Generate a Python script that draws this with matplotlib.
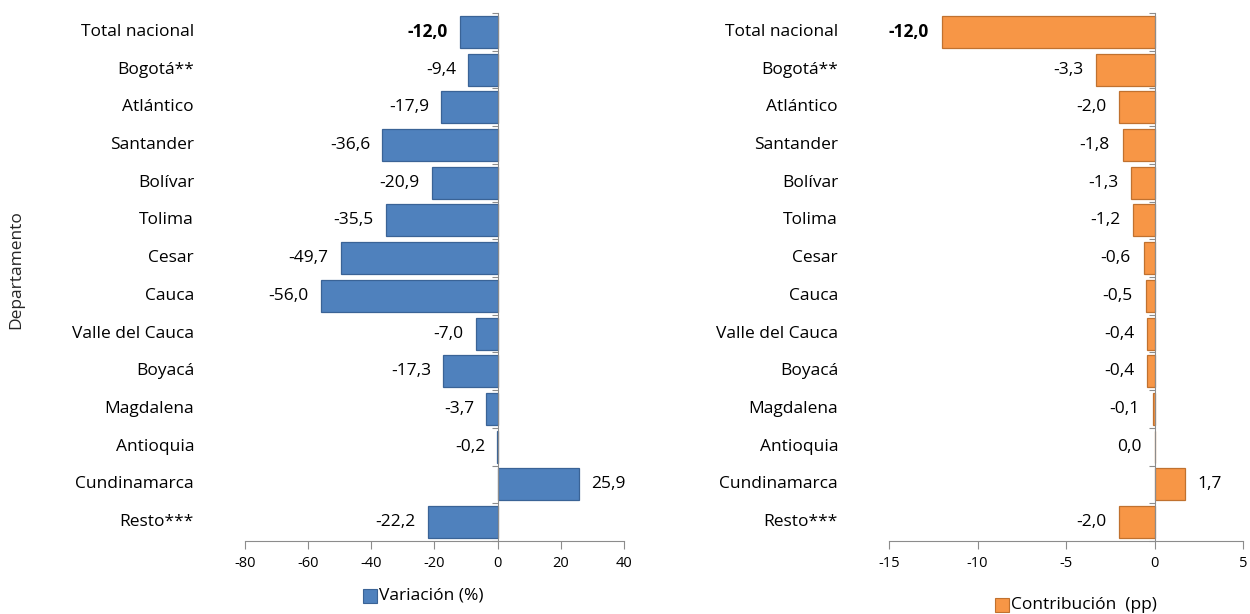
import matplotlib
matplotlib.use("Agg")
import matplotlib.pyplot as plt
from matplotlib.patches import Rectangle
import matplotlib.transforms as mtrans

plt.rcParams['font.family'] = ['Open Sans', 'DejaVu Sans']

categories = ["Total nacional", "Bogotá**", "Atlántico", "Santander", "Bolívar", "Tolima",
              "Cesar", "Cauca", "Valle del Cauca", "Boyacá", "Magdalena", "Antioquia",
              "Cundinamarca", "Resto***"]
variacion = [-12.0, -9.4, -17.9, -36.6, -20.9, -35.5, -49.7, -56.0, -7.0, -17.3, -3.7, -0.2, 25.9, -22.2]
contribucion = [-12.0, -3.3, -2.0, -1.8, -1.3, -1.2, -0.6, -0.5, -0.4, -0.4, -0.1, 0.0, 1.7, -2.0]
left_ticks = [-80, -60, -40, -20, 0, 20, 40]
right_ticks = [-15, -10, -5, 0, 5]

W, H = 1250, 614
fig = plt.figure(figsize=(W / 100, H / 100), dpi=100)

def fx(px):
    return px / W

def fy(py):
    return 1 - py / H

def make_panel(rect, values, ticks, color, edge, label_x_px, label_offset_px, legend_text, legend_xy,
               zero_left):
    ax = fig.add_axes(rect)
    n = len(values)
    y = list(range(n))
    ax.barh(y, values, height=0.85, color=color, edgecolor=edge, linewidth=0.9, zorder=3)
    ax.set_ylim(n - 0.5, -0.5)
    ax.set_xlim(ticks[0], ticks[-1])
    for s in ['top', 'right']:
        ax.spines[s].set_visible(False)
    ax.spines['left'].set_position(('data', 0))
    ax.spines['left'].set_color('#8c8c8c')
    ax.spines['bottom'].set_color('#8c8c8c')
    ax.spines['left'].set_zorder(4)
    ax.set_xticks(ticks)
    ax.set_xticklabels([str(t) for t in ticks], fontsize=10.5, color='black')
    ax.tick_params(axis='x', direction='out', length=6, color='#8c8c8c', pad=5)
    ax.set_yticks([i - 0.5 for i in range(n + 1)])
    ax.set_yticklabels([])
    ax.tick_params(axis='y', direction='out', length=4, color='#8c8c8c')
    # category labels
    trans = mtrans.blended_transform_factory(fig.transFigure, ax.transData)
    for i, c in enumerate(categories):
        ax.text(fx(label_x_px), i, c, transform=trans, ha='right', va='center',
                fontsize=12.5, color='black')
    # value labels
    for i, v in enumerate(values):
        txt = f"{v:.1f}".replace('.', ',')
        if v > 0 or (v == 0 and not zero_left):
            t = mtrans.offset_copy(ax.transData, fig=fig, x=label_offset_px, y=0, units='dots')
            ha = 'left'
        else:
            t = mtrans.offset_copy(ax.transData, fig=fig, x=-label_offset_px, y=0, units='dots')
            ha = 'right'
        ax.text(v, i, txt, transform=t, ha=ha, va='center', fontsize=12.5,
                fontweight='bold' if i == 0 else 'normal', color='black')
    # legend
    lx, ly = legend_xy
    fig.patches.append(Rectangle((fx(lx), fy(ly + 7)), fx(14), 14 / H,
                                 transform=fig.transFigure, facecolor=color,
                                 edgecolor=edge, linewidth=0.8))
    fig.text(fx(lx + 16), fy(ly), legend_text, ha='left', va='center', fontsize=12.5)
    return ax

make_panel([fx(245), fy(541), fx(624 - 245), (541 - 13) / H], variacion, left_ticks,
           '#4F81BD', '#3A6396', 194, 12, 'Variación (%)', (363, 596), True)
make_panel([fx(889), fy(541), fx(1243 - 889), (541 - 13) / H], contribucion, right_ticks,
           '#F79646', '#C0712F', 838, 13, 'Contribución  (pp)', (995, 605), True)

fig.text(fx(16), fy(270), 'Departamento', rotation=90, ha='center', va='center', fontsize=12.5,
         color='#262626')

fig.savefig('out.png', dpi=100)
